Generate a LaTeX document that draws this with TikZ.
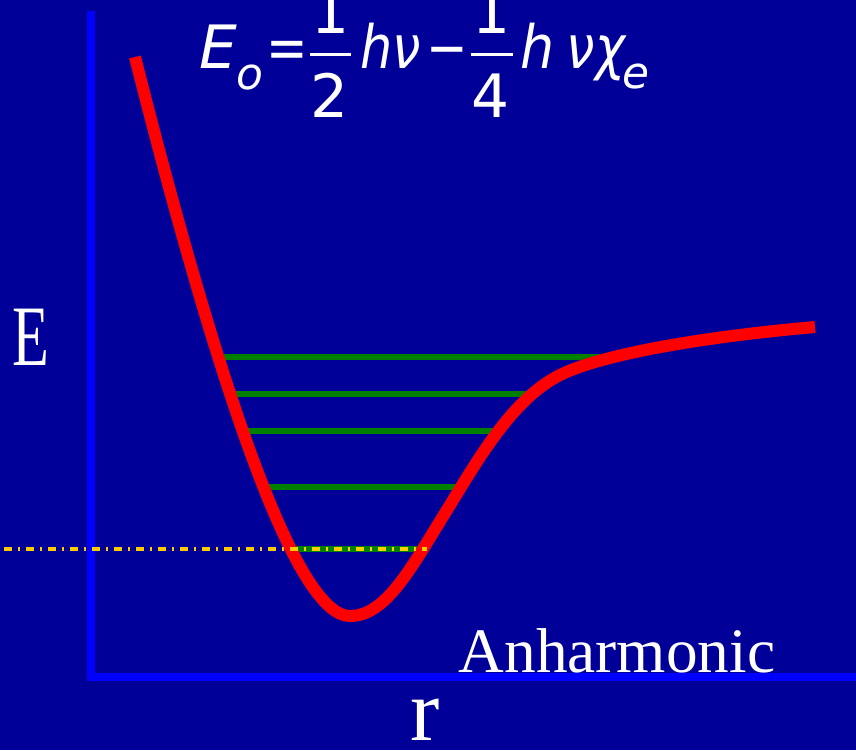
\documentclass[tikz,border=0pt]{standalone}
\usepackage{fontspec}
\setmainfont{Liberation Serif}
\newfontfamily\eqfont{DejaVu Sans}
\usetikzlibrary{positioning}
\definecolor{slidebg}{RGB}{0,0,153}
\definecolor{axisblue}{RGB}{0,0,255}
\definecolor{levelgreen}{RGB}{0,128,0}
\definecolor{zpegold}{RGB}{255,204,0}

\begin{document}
\begin{tikzpicture}[
    x=0.01cm, y=-0.01cm,
    axis/.style={draw=axisblue, line width=0.085cm},
    potential/.style={draw=red, line width=0.12cm},
    level/.style={draw=levelgreen, line width=0.06cm},
    zeroline/.style={draw=zpegold, line width=0.037cm, dash pattern=on 0.08cm off 0.06cm on 0.02cm off 0.06cm},
    eqn/.style={text=white, inner sep=0pt, anchor=base, font=\eqfont\itshape\fontsize{17}{20}\selectfont},
    eqnsub/.style={eqn, font=\eqfont\itshape\fontsize{12.5}{15}\selectfont},
    eqnnum/.style={eqn, font=\eqfont\fontsize{17}{20}\selectfont},
    fracbar/.style={draw=white, line width=0.03cm},
    lbl/.style={text=white, inner sep=0pt, anchor=base}
]
\fill[slidebg] (0,0) rectangle (856,750);
\useasboundingbox (0,0) rectangle (856,750);

\draw[axis] (91,11) -- (91,677) -- (856,677);

\draw[level] (214,357) -- (600,357);
\draw[level] (228,394) -- (527,394);
\draw[level] (239,431) -- (496,431);
\draw[level] (259,487) -- (463,487);
\draw[level] (292,549) -- (423,549);

\draw[potential] (135,57) .. controls (228,425) and (300,616) .. (350,616)
    .. controls (385,616) and (410,570) .. (442,518)
    .. controls (475,465) and (510,400) .. (560,375)
    .. controls (600,355) and (700,337) .. (815,327);

\draw[zeroline] (4,549) -- (427,549);

\node[eqn] (e0) at (218,68) {E};
\node[eqnsub] (e0sub) at (250,89) {o};
\node[eqnnum, xscale=0.83] (eq) at (287,68) {=};
\node[eqnnum] (num1) at (331,33) {1};
\node[eqnnum] (den1) at (330,117) {2};
\draw[fracbar] (310,54.5) -- (351,54.5);
\node[eqn, xscale=0.85] (hnu) at (391,68) {hν};
\node[eqnnum, xscale=0.83] (minus) at (447,68) {−};
\node[eqnnum] (num2) at (492,33) {1};
\node[eqnnum] (den2) at (491,117) {4};
\draw[fracbar] (471,54.5) -- (513,54.5);
\node[eqn, xscale=0.9] (h2) at (538,68) {h};
\node[eqn, xscale=0.85] (nuchi) at (596,68) {νχ};
\node[eqnsub] (chisub) at (636,88) {e};

\node[lbl, font=\fontsize{24.5}{28}\selectfont, xscale=0.7] (elabel) at (31,365) {E};
\node[lbl, font=\fontsize{18}{22}\selectfont] (anh) at (617,672) {Anharmonic};
\node[lbl, font=\fontsize{25}{30}\selectfont] (rlabel) at (425,740) {r};
\end{tikzpicture}
\end{document}
